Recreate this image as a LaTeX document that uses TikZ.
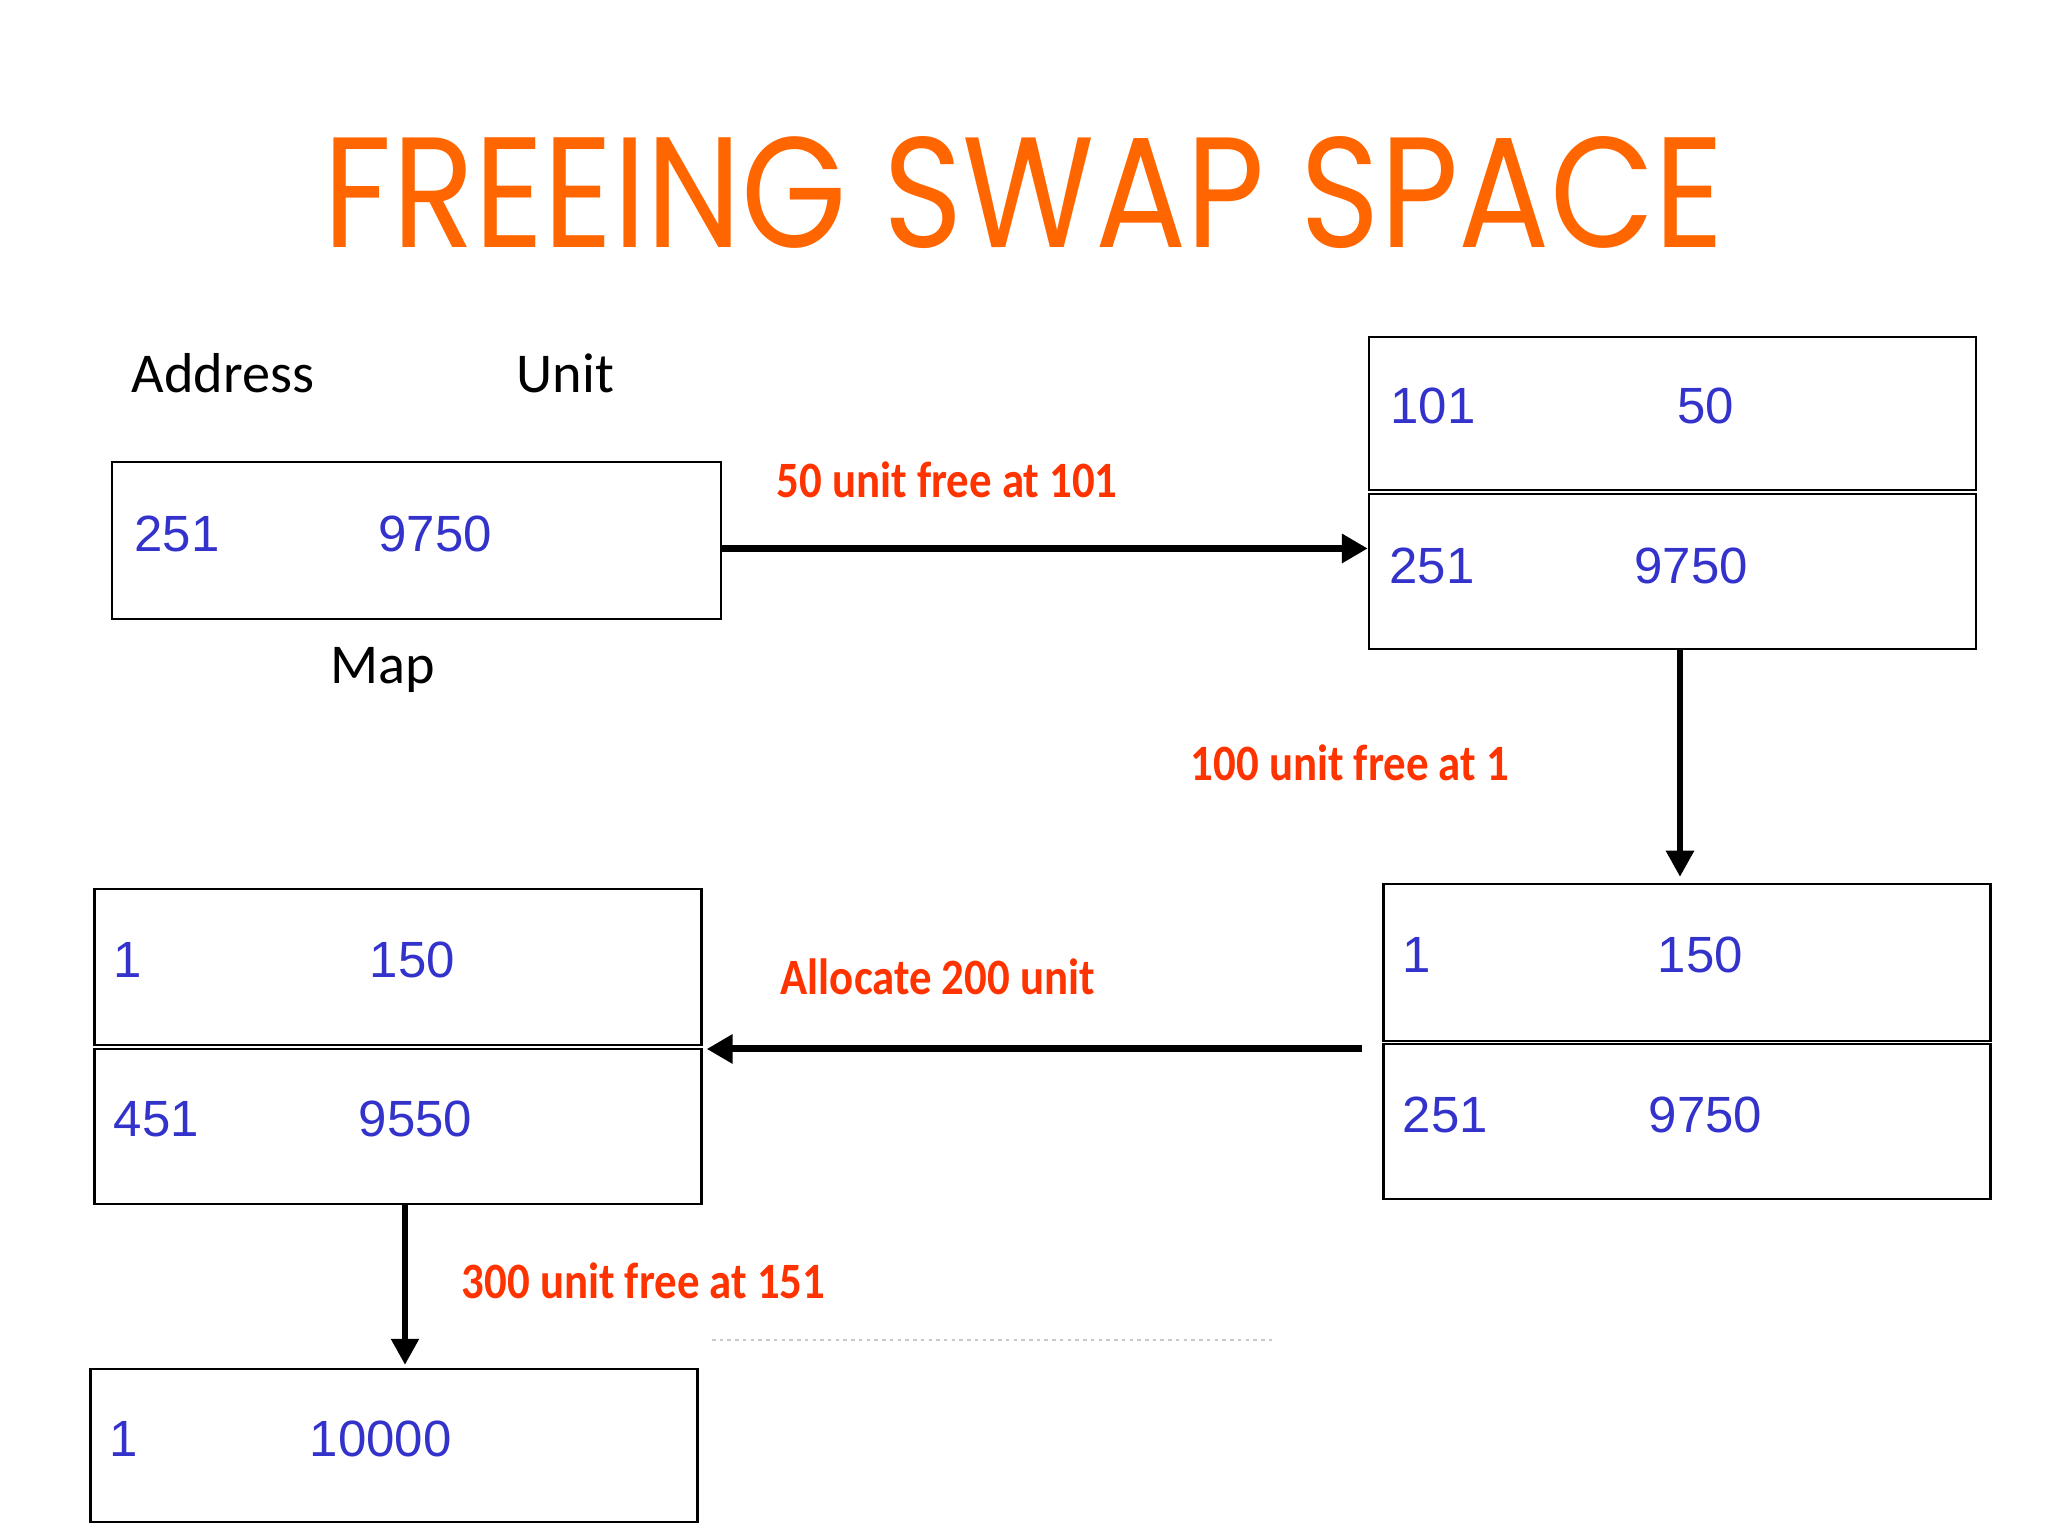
\documentclass[tikz,border=0pt]{standalone}
\usepackage{fontspec}
\usepackage{graphicx}
\setmainfont{Carlito}
\newfontfamily\titlefont{Poppins}
\newfontfamily\numfont{Liberation Sans}
\newfontfamily\lblfont{Carlito}
\usetikzlibrary{arrows.meta,calc}
\definecolor{titleorange}{HTML}{FF6600}
\definecolor{numblue}{HTML}{3333CC}
\definecolor{lblred}{HTML}{FF3300}
\definecolor{dotgray}{HTML}{C8C8D0}
\newcommand{\redtxt}[1]{\scalebox{0.88}[1]{#1}}
\tikzset{
  cell/.style={draw=black, line width=0.7pt, minimum width=6.07cm, minimum height=1.55cm, inner sep=0pt},
  num/.style={font=\numfont\fontsize{14.5}{16}\selectfont, text=numblue, anchor=west, inner sep=0pt},
  head/.style={font=\lblfont\fontsize{16}{18}\selectfont, text=black, anchor=base west, inner sep=0pt},
  redlbl/.style={font=\lblfont\bfseries\fontsize{14.5}{16}\selectfont, text=lblred, anchor=base west, inner sep=0pt},
  harr/.style={line width=2pt, -{Triangle[length=0.26cm,width=0.28cm]}},
  varr/.style={line width=1.6pt, -{Triangle[length=0.26cm,width=0.27cm]}},
}
\begin{document}
\begin{tikzpicture}
\useasboundingbox (0,0) rectangle (20.48,15.36);
\fill[white] (0,0) rectangle (20.48,15.36);

% title
\node[inner sep=0pt, anchor=base, text=titleorange] (title) at (10.24,12.88)
  {\resizebox{14.0cm}{1.11cm}{\titlefont FREEING SWAP SPACE}};

% headings
\node[head] (addr) at (1.31,11.43) {Address};
\node[head] (unit) at (5.16,11.43) {Unit};
\node[head] (map) at (3.30,8.52) {Map};

% boxes
\node[cell, minimum width=6.09cm, minimum height=1.57cm] (b1) at (4.165,9.955) {};
\node[cell, minimum height=1.53cm] (b2a) at (16.725,11.225) {};
\node[cell] (b2b) at (16.725,9.645) {};
\node[cell, minimum height=1.57cm] (b3a) at (16.87,5.735) {};
\node[cell] (b3b) at (16.87,4.145) {};
\node[cell, minimum height=1.56cm] (b4a) at (3.98,5.69) {};
\node[cell] (b4b) at (3.98,4.095) {};
\node[cell, minimum height=1.53cm] (b5) at (3.94,0.905) {};

% numbers
\node[num] (n1a) at ([shift={(0.23,0.065)}]b1.west) {251};
\node[num] (n1b) at ([shift={(2.67,0.065)}]b1.west) {9750};
\node[num] (n2a) at ([shift={(0.22,0.075)}]b2a.west) {101};
\node[num] (n2b) at ([shift={(3.09,0.075)}]b2a.west) {50};
\node[num] (n2c) at ([shift={(0.21,0.055)}]b2b.west) {251};
\node[num] (n2d) at ([shift={(2.66,0.055)}]b2b.west) {9750};
\node[num] (n3a) at ([shift={(0.20,0.075)}]b3a.west) {1};
\node[num] (n3b) at ([shift={(2.75,0.075)}]b3a.west) {150};
\node[num] (n3c) at ([shift={(0.20,0.065)}]b3b.west) {251};
\node[num] (n3d) at ([shift={(2.66,0.065)}]b3b.west) {9750};
\node[num] (n4a) at ([shift={(0.20,0.07)}]b4a.west) {1};
\node[num] (n4b) at ([shift={(2.76,0.07)}]b4a.west) {150};
\node[num] (n4c) at ([shift={(0.20,0.075)}]b4b.west) {451};
\node[num] (n4d) at ([shift={(2.65,0.075)}]b4b.west) {9550};
\node[num] (n5a) at ([shift={(0.20,0.065)}]b5.west) {1};
\node[num] (n5b) at ([shift={(2.20,0.065)}]b5.west) {10000};

% red labels
\node[redlbl] (l1) at (7.76,10.38) {\redtxt{50 unit free at 101}};
\node[redlbl] (l2) at (11.90,7.55) {\redtxt{100 unit free at 1}};
\node[redlbl] (l3) at (7.80,5.41) {\redtxt{Allocate 200 unit}};
\node[redlbl] (l4) at (4.61,2.37) {\redtxt{300 unit free at 151}};

% arrows
\draw[harr] ([yshift=-0.08cm]b1.east) -- ([yshift=-0.08cm]b1.east -| b2b.west);
\draw[varr, shorten >=0.06cm] ([xshift=0.075cm]b2b.south) -- ([xshift=0.075cm]b2b.south |- b3a.north);
\coordinate (a3s) at (13.62,4.87);
\draw[harr, shorten >=0.04cm] (a3s) -- (a3s -| b4b.east);
\draw[varr, shorten >=0.03cm] ([xshift=0.07cm]b4b.south) -- ([xshift=0.07cm]b4b.south |- b5.north);

% faint dotted line
\draw[dotgray, line width=0.6pt, dash pattern=on 1pt off 1.2pt] (7.12,1.96) -- (12.73,1.96);
\end{tikzpicture}
\end{document}
